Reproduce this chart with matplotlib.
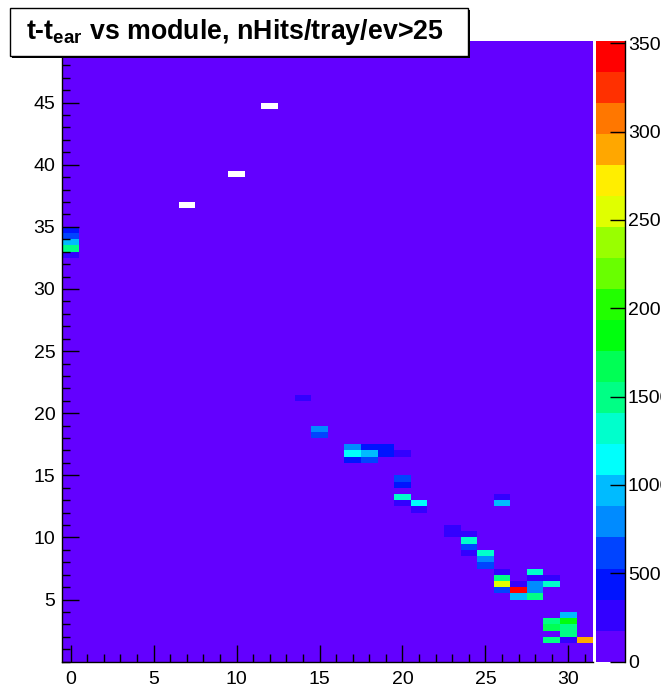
import colorsys
import numpy as np
import matplotlib
matplotlib.use("Agg")
import matplotlib.pyplot as plt
from matplotlib.colors import ListedColormap, BoundaryNorm
from matplotlib.patches import Rectangle
from matplotlib.ticker import MultipleLocator

plt.rcParams["font.family"] = ["Liberation Sans", "DejaVu Sans"]
plt.rcParams["mathtext.fontset"] = "custom"
plt.rcParams["mathtext.rm"] = "Liberation Sans"
plt.rcParams["mathtext.bf"] = "Liberation Sans:bold"

# ---------------- data ----------------
title = r"t-t$_{\mathbf{ear}}$ vs module, nHits/tray/ev>25"
x_range = (-0.5, 31.5)   # module axis, 32 bins
n_x = 32
y_range = (0.0, 50.0)    # t - t_ear axis, 100 bins
n_y = 100
z_max = 3515
cbar_ticks = [0, 500, 1000, 1500, 2000, 2500, 3000, 3500]
x_major = [0, 5, 10, 15, 20, 25, 30]
y_major = [5, 10, 15, 20, 25, 30, 35, 40, 45]

# filled cells: module, lower edge of t bin, counts
cell_module = [0, 0, 0, 0, 0,
               14,
               15, 15,
               17, 17, 17,
               18, 18, 18,
               19, 19,
               20, 20, 20, 20, 20,
               21, 21,
               23, 23,
               24, 24, 24, 24,
               25, 25, 25,
               26, 26, 26, 26, 26, 26,
               27, 27, 27,
               28, 28, 28, 28, 28,
               29, 29, 29, 29, 29,
               30, 30, 30, 30, 30,
               31]
cell_tlow = [34.5, 34.0, 33.5, 33.0, 32.5,
             21.0,
             18.5, 18.0,
             17.0, 16.5, 16.0,
             17.0, 16.5, 16.0,
             17.0, 16.5,
             16.5, 14.5, 14.0, 13.0, 12.5,
             12.5, 12.0,
             10.5, 10.0,
             10.0, 9.5, 9.0, 8.5,
             8.5, 8.0, 7.5,
             13.0, 12.5, 7.0, 6.5, 6.0, 5.5,
             6.0, 5.5, 5.0,
             7.0, 6.5, 6.0, 5.5, 5.0,
             6.5, 6.0, 3.0, 2.5, 1.5,
             3.5, 3.0, 2.5, 2.0, 1.5,
             1.5]
cell_counts = [440, 620, 970, 1500, 260,
               260,
               800, 620,
               800, 1150, 440,
               440, 970, 620,
               440, 440,
               260, 620, 440, 1320, 260,
               1150, 260,
               260, 260,
               260, 1320, 620, 260,
               1320, 800, 620,
               260, 970, 260, 1500, 2550, 620,
               260, 3420, 970,
               1320, 260, 800, 800, 1500,
               260, 1320, 1500, 1680, 1500,
               970, 1850, 1500, 1500, 260,
               2900]

# cells left blank (white) in the reference
empty_module = [7, 10, 12]
empty_tlow = [36.5, 39.0, 44.5]

# ---------------- ROOT "pretty" palette, 20 contours ----------------
n_cont = 20
colors = []
for k in range(n_cont):
    idx = int((k + 0.99) * 50 / n_cont)
    hue = 280.0 - (idx + 1) * (280.0 / 50)
    colors.append(colorsys.hls_to_rgb(hue / 360.0, 0.5, 1.0))
cmap = ListedColormap(colors)
cmap.set_bad("white")
levels = np.linspace(0, z_max, n_cont + 1)
norm = BoundaryNorm(levels, cmap.N)

# ---------------- histogram ----------------
x_edges = np.linspace(x_range[0], x_range[1], n_x + 1)
y_edges = np.linspace(y_range[0], y_range[1], n_y + 1)
dy = (y_range[1] - y_range[0]) / n_y
H = np.zeros((n_y, n_x))
for m, t, c in zip(cell_module, cell_tlow, cell_counts):
    H[int(round((t - y_range[0]) / dy)), int(round(m - x_range[0] - 0.5))] = c
for m, t in zip(empty_module, empty_tlow):
    H[int(round((t - y_range[0]) / dy)), int(round(m - x_range[0] - 0.5))] = np.nan
H = np.ma.masked_invalid(H)

W, Hpx = 661, 689
fig = plt.figure(figsize=(W / 100, Hpx / 100), dpi=100)
fig.patch.set_facecolor("white")

def fx(px):
    return px / W

def fy(py):
    return 1 - py / Hpx

ax_l, ax_r, ax_t, ax_b = 62.4, 593.2, 40.5, 661.7
ax = fig.add_axes([fx(ax_l), fy(ax_b), fx(ax_r - ax_l), (ax_b - ax_t) / Hpx])
mesh = ax.pcolormesh(x_edges, y_edges, H, cmap=cmap, norm=norm, shading="flat")
ax.set_xlim(*x_range)
ax.set_ylim(*y_range)
ax.set_xticks(x_major)
ax.set_yticks(y_major)
ax.xaxis.set_minor_locator(MultipleLocator(1))
ax.yaxis.set_minor_locator(MultipleLocator(1))
ax.tick_params(which="major", direction="in", length=12, width=1.0,
               labelsize=14, colors="black")
ax.tick_params(axis="x", which="major", pad=6.5)
ax.tick_params(axis="y", which="major", pad=5)
ax.tick_params(which="minor", direction="in", length=6, width=1.0)
for s in ["top", "right"]:
    ax.spines[s].set_visible(False)
for s in ["left", "bottom"]:
    ax.spines[s].set_linewidth(1.0)

# ---------------- colour bar ----------------
cax = fig.add_axes([fx(596), fy(ax_b), fx(625 - 596), (ax_b - ax_t) / Hpx])
cb = fig.colorbar(mesh, cax=cax, ticks=cbar_ticks)
cb.outline.set_visible(False)
cax.yaxis.set_ticks_position("right")
cax.tick_params(direction="in", length=11, width=1.0, labelsize=14, pad=2)
cax.minorticks_off()
cax.plot([1, 1], [0, 1], transform=cax.transAxes, color="black", lw=1.0,
         clip_on=False)

# ---------------- title box ----------------
bx0, by0, bx1, by1 = 10, 8.5, 468, 55.5
shadow = Rectangle((fx(bx0 + 2), fy(by1 + 2)), fx(bx1 - bx0), (by1 - by0) / Hpx,
                   transform=fig.transFigure, facecolor="black",
                   edgecolor="black", lw=0, zorder=5)
box = Rectangle((fx(bx0), fy(by1)), fx(bx1 - bx0), (by1 - by0) / Hpx,
                transform=fig.transFigure, facecolor="white",
                edgecolor="black", lw=1.0, zorder=6)
fig.add_artist(shadow)
fig.add_artist(box)
fig.text(fx(26), fy((by0 + by1) / 2), title, fontsize=19.3, fontweight="bold",
         ha="left", va="center", zorder=7)

fig.savefig("out.png", dpi=100)
